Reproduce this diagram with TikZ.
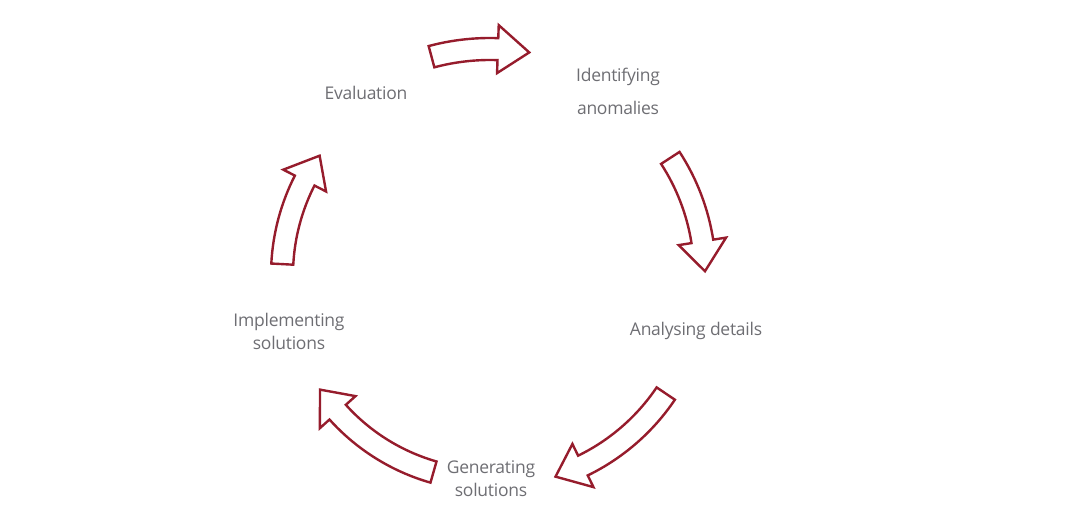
\documentclass[tikz,border=0pt]{standalone}
\usepackage{fontspec}
\setmainfont{Open Sans}
\definecolor{cycred}{RGB}{150,28,44}
\definecolor{cyctext}{RGB}{110,110,115}
\tikzset{
  steptext/.style={text=cyctext,font=\fontsize{17.5}{23}\selectfont\addfontfeatures{LetterSpace=-1.5},align=center,inner sep=1pt},
  blockline/.style={draw=cycred,line width=2.4pt,fill=white,line join=miter}
}
% curved hollow arrow along a circle around (cyc): radius, start angle, end angle
\newcommand{\cycarrow}[3]{%
  \pgfmathsetmacro\ro{#1+11}\pgfmathsetmacro\ri{#1-11}%
  \pgfmathsetmacro\hro{#1+24}\pgfmathsetmacro\hri{#1-24}%
  \pgfmathsetmacro\hb{#3+(#2>#3?8:-8)}%
  \draw[blockline] ([shift={(#2:\ro)}]cyc) arc[start angle=#2,end angle=\hb,radius=\ro]
    -- ([shift={(\hb:\hro)}]cyc) -- ([shift={(#3:#1)}]cyc) -- ([shift={(\hb:\hri)}]cyc)
    -- ([shift={(\hb:\ri)}]cyc) arc[start angle=\hb,end angle=#2,radius=\ri] -- cycle;}
\begin{document}
\begin{tikzpicture}[x=1pt,y=1pt]
\useasboundingbox (0,0) rectangle (1086,520);
\coordinate (cyc) at (490,245);

% step labels
\node[steptext] (eval) at (366,427) {Evaluation};
\node[steptext] (ident) at (618,429) {Identifying\\[10pt]anomalies};
\node[steptext] (anal) at (696,189) {Analysing details};
\node[steptext] (gen) at (491,41) {Generating\\solutions};
\node[steptext] (impl) at (289,189) {Implementing\\solutions};

% arrows
\cycarrow{226}{105}{80}
\cycarrow{215}{33}{1}
\cycarrow{212}{-34}{-72}
\cycarrow{205}{-106}{-146}
\cycarrow{208}{177}{145}
\end{tikzpicture}
\end{document}
